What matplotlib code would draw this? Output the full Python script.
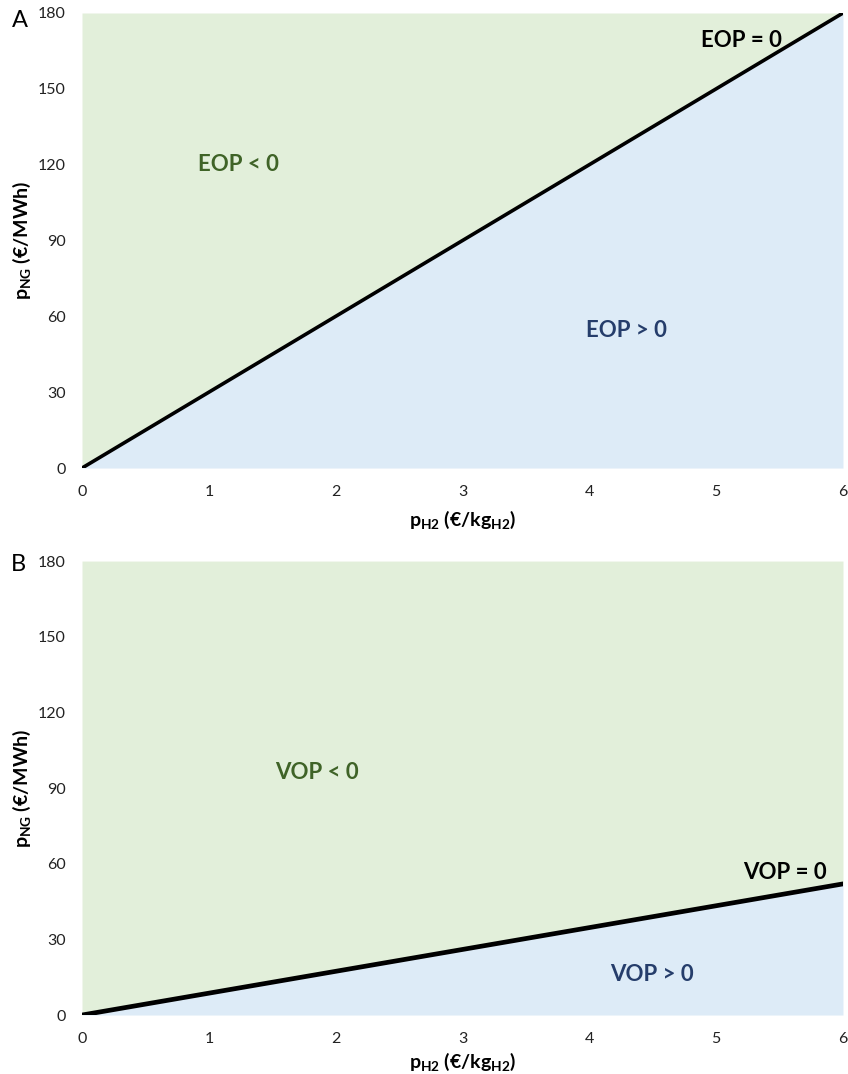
import matplotlib
matplotlib.use("Agg")
import matplotlib.pyplot as plt

plt.rcParams['font.family'] = ['Lato', 'DejaVu Sans']
plt.rcParams['mathtext.default'] = 'bf'

# Hydrogen price range (€/kg H2) and break-even natural gas prices (€/MWh)
p_h2 = [0, 6]
eop_zero = [0, 180]
vop_zero = [0, 52]

x_ticks = [0, 1, 2, 3, 4, 5, 6]
y_ticks = [0, 30, 60, 90, 120, 150, 180]

GREEN = '#E2EFDA'
BLUE = '#DDEBF7'
GREEN_TXT = '#3F6327'
BLUE_TXT = '#253D6B'

fig = plt.figure(figsize=(8.48, 10.74), dpi=100)
ax_a = fig.add_axes([0.0967, 0.5642, 0.8974, 0.4237])
ax_b = fig.add_axes([0.0967, 0.0549, 0.8974, 0.4227])


def draw_panel(ax, line, lw, labels, xlab_y):
    ax.fill_between(p_h2, line, 180, color=GREEN, lw=0, zorder=0)
    ax.fill_between(p_h2, 0, line, color=BLUE, lw=0, zorder=0)
    ax.plot(p_h2, line, color='black', lw=lw, solid_capstyle='round', zorder=2)
    ax.set_xlim(0, 6)
    ax.set_ylim(0, 180)
    ax.set_xticks(x_ticks)
    ax.set_yticks(y_ticks)
    ax.tick_params(length=0, labelsize=11.5, colors='#222222')
    ax.tick_params(axis='y', pad=11.5)
    ax.tick_params(axis='x', pad=12)
    for s in ax.spines.values():
        s.set_visible(False)
    ax.set_xlabel(r'p$_{\mathregular{H2}}$ (€/kg$_{\mathregular{H2}}$)',
                  fontsize=14, fontweight='bold')
    ax.set_ylabel(r'p$_{\mathregular{NG}}$ (€/MWh)',
                  fontsize=14, fontweight='bold')
    ax.xaxis.set_label_coords(0.5, xlab_y)
    ax.yaxis.set_label_coords(-0.064, 0.5)
    for (tx, ty, txt, col) in labels:
        ax.text(tx, ty, txt, fontsize=16, fontweight='bold', color=col,
                ha='center', va='center', zorder=3)


draw_panel(ax_a, eop_zero, 2.6,
           [(1.23, 120, 'EOP < 0', GREEN_TXT),
            (4.29, 54.5, 'EOP > 0', BLUE_TXT),
            (5.2, 169, 'EOP = 0', 'black')], -0.088)
draw_panel(ax_b, vop_zero, 3.4,
           [(1.85, 96, 'VOP < 0', GREEN_TXT),
            (4.49, 16, 'VOP > 0', BLUE_TXT),
            (5.54, 56.5, 'VOP = 0', 'black')], -0.077)

fig.text(0.014, 0.981, 'A', fontsize=17, ha='left', va='center')
fig.text(0.013, 0.474, 'B', fontsize=17, ha='left', va='center')

fig.savefig('out.png', dpi=100)
